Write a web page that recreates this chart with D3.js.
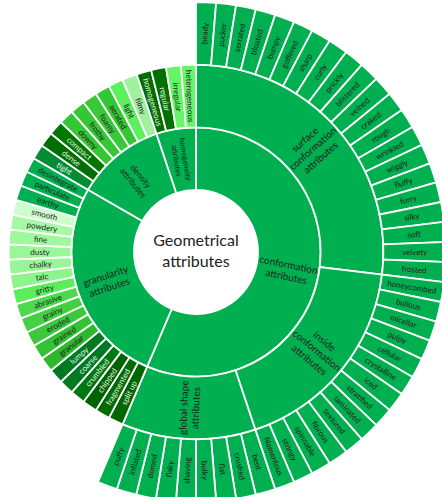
<!DOCTYPE html>
<html>
<head>
<meta charset="utf-8">
<script src="https://cdn.jsdelivr.net/npm/d3@7"></script>
<style>
  body { margin: 0; background: #fff; }
  svg { display: block; font-family: Lato, "Open Sans", sans-serif; }
</style>
</head>
<body>
<svg id="chart" width="442" height="497"></svg>
<script>
// leaf names, clockwise from 12 o'clock, one unit each
const surfaceLeaves = ["beady", "pucker", "serrated", "bloated", "bumpy", "goffered", "sharp", "curly",
    "prickly", "blistered", "veined", "craked", "rough", "wrinkled", "wiggly", "fluffy", "furry",
    "silky", "soft", "velvety", "frosted"];
const insideLeaves = ["honeycombed", "bullous", "micellar", "pulpy", "cellular", "crystalline", "iced",
    "stratified", "laminated", "textured", "fibrous", "spinnable", "stringy", "filamentous"];
const globalLeaves = ["bent", "crushed", "flat", "bulky", "shaving", "flaky", "domed", "inflated", "puffy"];
const granularityLeaves = ["split up", "fragmented", "chipped", "crumbled", "coarse", "lumpy", "granular",
    "grained", "eroded", "grainy", "abrasive", "gritty", "talc", "chalky", "dusty", "fine", "powdery",
    "smooth", "earthy", "particulate", "desintegrate"];
const densityLeaves = ["tight", "dense", "compact", "downy", "frothy", "foamy", "aerated", "light", "filmy"];
const homogeneityLeaves = ["homogeneous", "regular", "irregular", "heterogeneous"];
const leafValue = 1;

const centerTitle = ["Geometrical", "attributes"];

const green = "#00b050";
// fills of the leaves that are not the default green
const leafFill = {
    "split up": "#006600", "fragmented": "#006b00", "chipped": "#006200", "crumbled": "#007812",
    "coarse": "#007a22", "lumpy": "#007a22", "granular": "#2eb82e", "grained": "#33c233",
    "eroded": "#3cc83c", "grainy": "#44d044", "abrasive": "#4dd94d", "gritty": "#5aee5a",
    "talc": "#8cf58c", "chalky": "#99f599", "dusty": "#99f799", "fine": "#9cfa9c",
    "powdery": "#a6faa6", "smooth": "#ccffcc",
    "tight": "#008c32", "dense": "#006e00", "compact": "#007800", "downy": "#33c733",
    "frothy": "#33c733", "foamy": "#38c938", "aerated": "#33c733", "light": "#5cf05c", "filmy": "#a0f0a0",
    "homogeneous": "#006e00", "regular": "#007000", "irregular": "#66f566", "heterogeneous": "#66f566"
};
const lightText = ["split up", "fragmented", "chipped", "crumbled", "coarse", "lumpy",
    "tight", "dense", "compact", "homogeneous", "regular"];

const labelLines = {
    "conformation attributes": ["conformation", "attributes"],
    "surface conformation attributes": ["surface", "conformation", "attributes"],
    "inside conformation attributes": ["inside", "conformation", "attributes"],
    "global shape attributes": ["global shape", "attributes"],
    "granularity attributes": ["granularity", "attributes"],
    "density attributes": ["density", "attributes"],
    "homogeneity attributes": ["homogeneity", "attributes"]
};

const leaves = list => list.map(n => ({ name: n, value: leafValue }));

const tree = {
    name: "Geometrical attributes",
    children: [
        { name: "conformation attributes", children: [
            { name: "surface conformation attributes", children: leaves(surfaceLeaves) },
            { name: "inside conformation attributes", children: leaves(insideLeaves) },
            { name: "global shape attributes", children: leaves(globalLeaves) }
        ]},
        { name: "granularity attributes", children: leaves(granularityLeaves) },
        { name: "density attributes", children: leaves(densityLeaves) },
        { name: "homogeneity attributes", children: leaves(homogeneityLeaves) }
    ]
};

const cx = 196, cy = 252;
const svg = d3.select("#chart");
const g = svg.append("g").attr("transform", `translate(${cx},${cy})`);

const root = d3.hierarchy(tree).sum(d => d.value || 0);
d3.partition().size([2 * Math.PI, root.height + 1])(root);

const radius = d3.scaleLinear().domain([1, 4]).range([62, 250]);

const arc = d3.arc()
    .startAngle(d => d.x0)
    .endAngle(d => d.x1)
    .innerRadius(d => radius(d.y0))
    .outerRadius(d => radius(d.y1));

const nodes = root.descendants().filter(d => d.depth > 0);

g.selectAll("path")
    .data(nodes)
    .join("path")
    .attr("d", arc)
    .attr("fill", d => d.children ? green : (leafFill[d.data.name] || green))
    .attr("stroke", "#fff")
    .attr("stroke-width", 1.8);

function fontSize(d) {
    if (!d.children) return 8;
    if (d.data.name === "density attributes") return 8.5;
    if (d.data.name === "homogeneity attributes") return 7.5;
    return 10;
}

const labels = g.selectAll("text.lab")
    .data(nodes)
    .join("text")
    .attr("class", "lab")
    .attr("transform", d => {
        const a = (d.x0 + d.x1) / 2 * 180 / Math.PI;
        const r = radius((d.y0 + d.y1) / 2);
        const rad = a * Math.PI / 180;
        const rot = a < 180 ? a - 90 : a - 270;
        return `translate(${r * Math.sin(rad)},${-r * Math.cos(rad)}) rotate(${rot})`;
    })
    .attr("text-anchor", "middle")
    .attr("font-size", d => fontSize(d))
    .attr("fill", d => lightText.includes(d.data.name) ? "#e8f4e8" : "#1e1e1e");

labels.each(function(d) {
    const lines = labelLines[d.data.name] || [d.data.name];
    const el = d3.select(this);
    const lh = 1.2;
    lines.forEach((t, i) => {
        el.append("tspan")
            .attr("x", 0)
            .attr("dy", i === 0 ? `${0.35 - (lines.length - 1) * lh / 2}em` : `${lh}em`)
            .text(t);
    });
});

g.append("text")
    .attr("text-anchor", "middle")
    .attr("font-size", 16)
    .attr("fill", "#222")
    .selectAll("tspan")
    .data(centerTitle)
    .join("tspan")
    .attr("x", 0)
    .attr("y", (d, i) => i === 0 ? -6 : 15)
    .text(d => d);
</script>
</body>
</html>
